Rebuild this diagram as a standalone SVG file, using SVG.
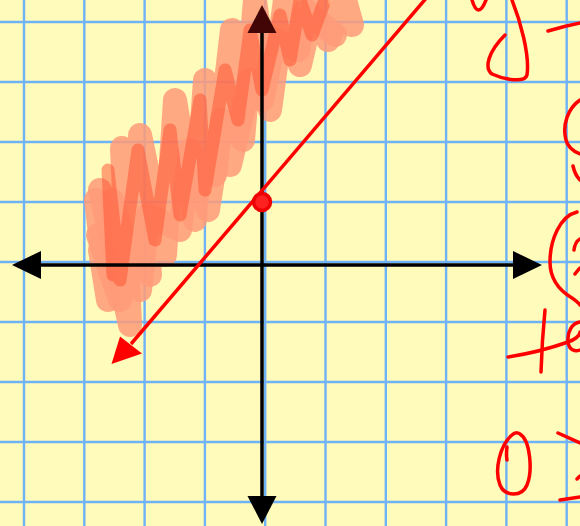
<svg xmlns="http://www.w3.org/2000/svg" width="580" height="526" viewBox="0 0 580 526">
  <style>
    .grid line { stroke: #6fb2f6; stroke-width: 2.4; }
    .axis { stroke: #000; stroke-width: 3.5; fill: none; }
    .ink { fill: none; stroke: #ff0000; stroke-width: 3.5; stroke-linecap: round; stroke-linejoin: round; }
    .hl1 { fill: none; stroke: #ff9a78; stroke-opacity: 0.85; stroke-width: 24; stroke-linecap: round; stroke-linejoin: round; }
    .hl2 { fill: none; stroke: #ff5030; stroke-opacity: 0.5; stroke-width: 13; stroke-linecap: round; stroke-linejoin: round; }
  </style>
  <rect width="580" height="526" fill="#fffbbb"/>
  <g id="grid" class="grid">
    <line x1="24" y1="0" x2="24" y2="526"/>
    <line x1="84.3" y1="0" x2="84.3" y2="526"/>
    <line x1="144.6" y1="0" x2="144.6" y2="526"/>
    <line x1="204.9" y1="0" x2="204.9" y2="526"/>
    <line x1="265.2" y1="0" x2="265.2" y2="526"/>
    <line x1="325.5" y1="0" x2="325.5" y2="526"/>
    <line x1="385.8" y1="0" x2="385.8" y2="526"/>
    <line x1="446.1" y1="0" x2="446.1" y2="526"/>
    <line x1="506.4" y1="0" x2="506.4" y2="526"/>
    <line x1="566.7" y1="0" x2="566.7" y2="526"/>
    <line x1="0" y1="22" x2="580" y2="22"/>
    <line x1="0" y1="82" x2="580" y2="82"/>
    <line x1="0" y1="142" x2="580" y2="142"/>
    <line x1="0" y1="202" x2="580" y2="202"/>
    <line x1="0" y1="262" x2="580" y2="262"/>
    <line x1="0" y1="322" x2="580" y2="322"/>
    <line x1="0" y1="382" x2="580" y2="382"/>
    <line x1="0" y1="442" x2="580" y2="442"/>
    <line x1="0" y1="502" x2="580" y2="502"/>
  </g>
  <g id="shading">
    <path class="hl1" d="M100,190 L130,325 L122,148 L150,275 L140,135 L165,255 L175,100 L195,220 L205,80 L215,175 L232,30 L243,140 L255,0 L270,110 L285,0 L300,65 L315,0 L328,40 L345,0 L352,25"/>
    <path class="hl1" d="M98,235 L120,300 L112,200 L140,290 L148,215 L180,230 L190,150 L208,210 L222,120 L230,165 L250,80 L262,100 L275,40 L298,50 L305,10 L335,35"/>
    <path class="hl1" d="M100,250 L108,300 L96,200"/>
    <path class="hl2" d="M113,275 L108,170 L120,280 L138,150 L155,240 L170,130 L180,215 L200,100 L205,190 L225,70 L238,120 L250,30 L262,90 L280,15 L290,60 L300,0 L312,35 L325,0"/>
  </g>
  <g id="axes">
    <line class="axis" x1="40" y1="265" x2="514" y2="265"/>
    <line class="axis" x1="262" y1="32" x2="262" y2="498"/>
    <polygon points="12,265 41,251 41,279" fill="#000"/>
    <polygon points="542,265 513,251 513,279" fill="#000"/>
    <polygon points="262,5 247.5,33 276.5,33" fill="#420606"/>
    <polygon points="262,524 247.5,496 276.5,496" fill="#000"/>
  </g>
  <g id="line">
    <line x1="131" y1="344" x2="440" y2="-18" stroke="#ff0000" stroke-width="3.5"/>
    <polygon points="111.5,364 120,336.5 142,353.5" fill="#ff0000"/>
  </g>
  <g id="point">
    <circle cx="262" cy="202" r="8.5" fill="#ff2020" stroke="#ee0000" stroke-width="3.5"/>
  </g>
  <g id="ink">
    <path class="ink" d="M472,0 Q478,20 486,0"/>
    <path class="ink" d="M512,0 C520,20 530,55 527,75 C525,83 505,80 492,74 C484,68 488,52 505,35"/>
    <path class="ink" d="M548,31 Q565,26 580,23"/>
    <path class="ink" d="M580,100 C568,108 562,125 566,140 C568,148 575,152 580,154"/>
    <path class="ink" d="M573,166 Q575,175 580,180"/>
    <path class="ink" d="M577,212 C560,216 550,240 550,262 C550,282 562,292 572,298 Q578,302 580,305"/>
    <path class="ink" d="M574,250 Q575,242 580,239"/>
    <path class="ink" d="M575,274 Q578,270 580,268"/>
    <path class="ink" d="M545,310 Q542,340 541,372"/>
    <path class="ink" d="M508,357 Q540,352 568,342 C574,340 580,336 580,332"/>
    <path class="ink" d="M580,322 C572,323 567,332 568,342 C569,350 575,352 580,350"/>
    <path class="ink" d="M520,434 C530,440 533,470 527,485 C522,497 505,497 500,485 C494,470 500,445 512,435 C515,432 519,432 522,436"/>
    <path class="ink" d="M507,447 Q506,455 507,460"/>
    <path class="ink" d="M558,433 L580,443"/>
    <path class="ink" d="M577,479 L580,476"/>
    <path class="ink" d="M560,500 L580,497"/>
  </g>
</svg>
